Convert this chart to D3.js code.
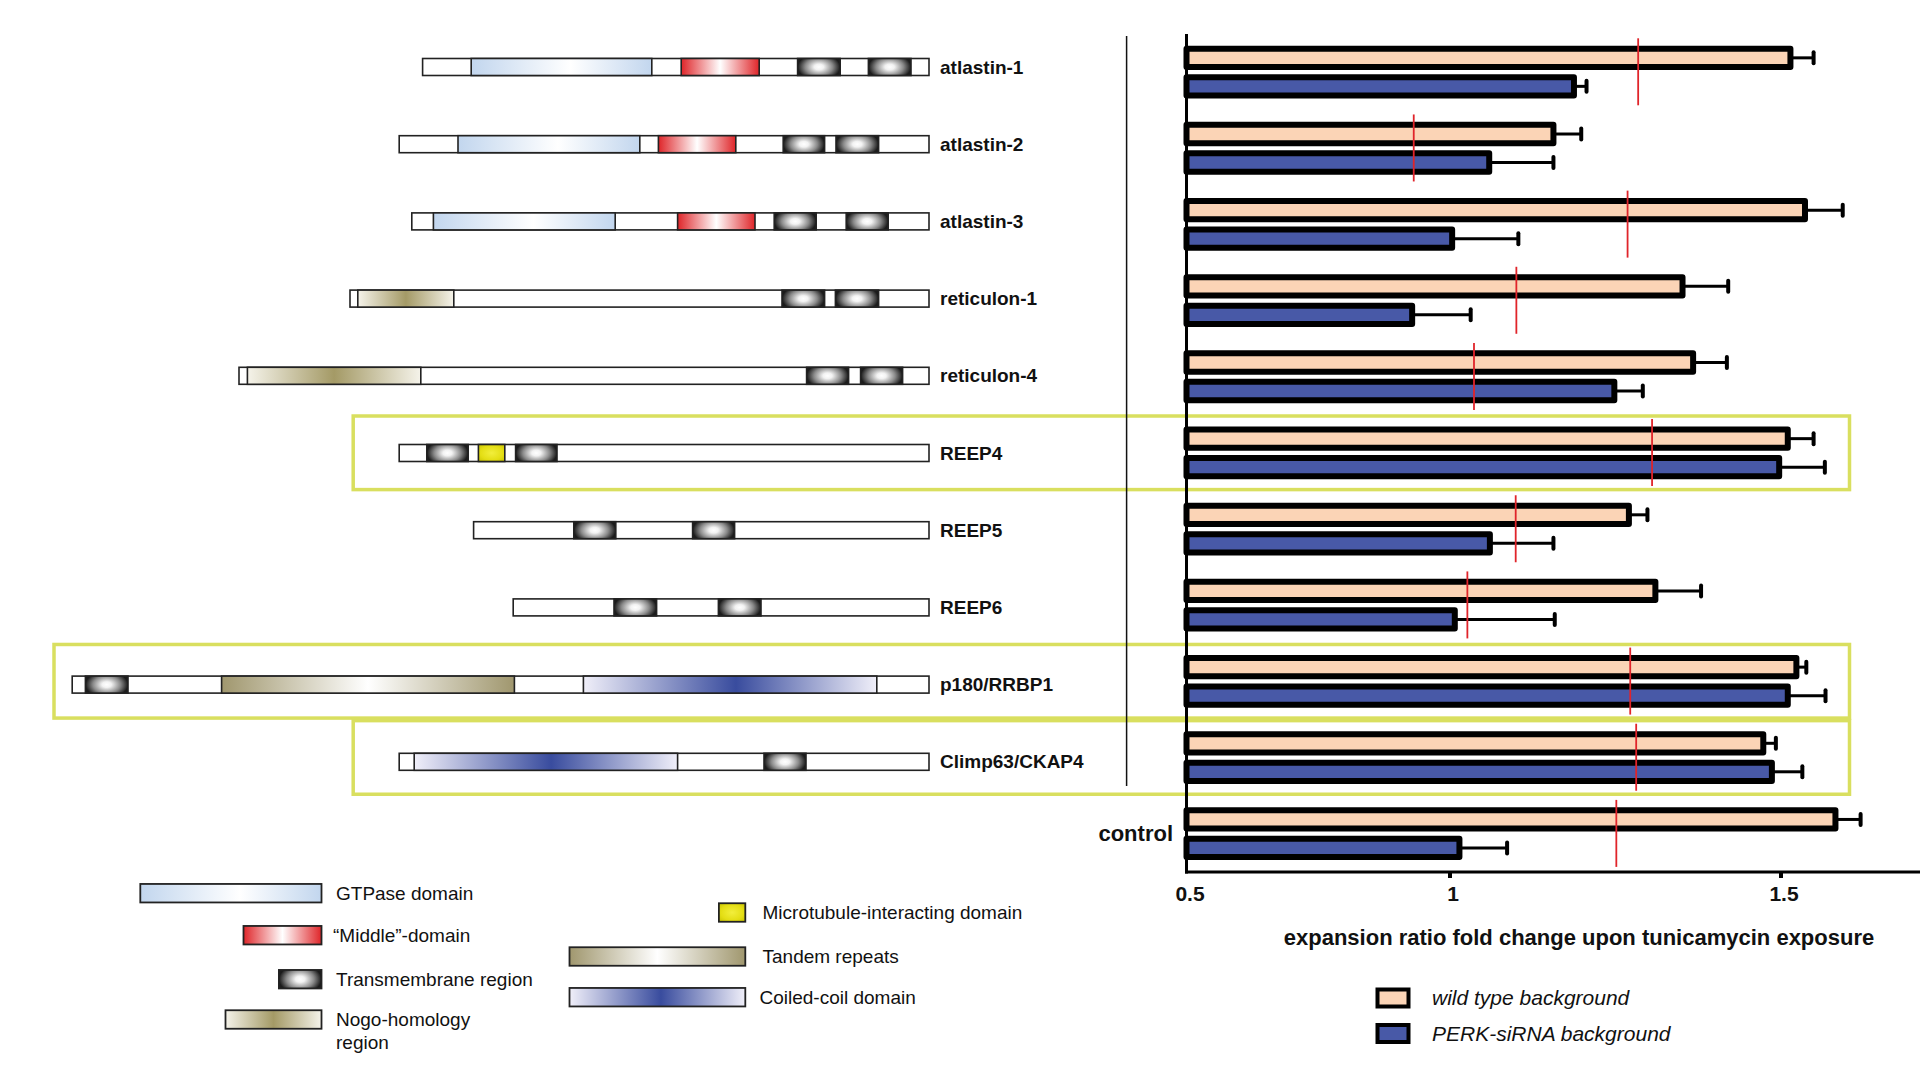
<!DOCTYPE html>
<html><head><meta charset="utf-8">
<script src="https://cdn.jsdelivr.net/npm/d3@7"></script>
<style>body{margin:0;background:#fff}svg{display:block}</style>
</head><body><svg id="c" width="1920" height="1068"></svg>
<script>
// ---------- DATA ----------
const proteins = ["atlastin-1","atlastin-2","atlastin-3","reticulon-1","reticulon-4","REEP4","REEP5","REEP6","p180/RRBP1","Climp63/CKAP4"];
const proteinLength = [844, 883, 862, 965, 1150, 883, 759, 693, 1428, 883];
// domains: [protein, type, start, end] (schematic residue units)
const domains = [
  ["atlastin-1","gtp",81,382],["atlastin-1","mid",431,561],["atlastin-1","tm",625,696],["atlastin-1","tm",743,814],
  ["atlastin-2","gtp",98,401],["atlastin-2","mid",432,561],["atlastin-2","tm",640,709],["atlastin-2","tm",728,799],
  ["atlastin-3","gtp",36,339],["atlastin-3","mid",443,572],["atlastin-3","tm",604,674],["atlastin-3","tm",724,794],
  ["reticulon-1","nogo",13,173],["reticulon-1","tm",720,791],["reticulon-1","tm",809,881],
  ["reticulon-4","nogo",14,303],["reticulon-4","tm",946,1016],["reticulon-4","tm",1036,1106],
  ["REEP4","tm",46,115],["REEP4","mt",132,176],["REEP4","tm",194,263],
  ["REEP5","tm",167,237],["REEP5","tm",365,435],
  ["REEP6","tm",168,239],["REEP6","tm",342,413],
  ["p180/RRBP1","tm",22,93],["p180/RRBP1","tandem",249,737],["p180/RRBP1","coil",852,1341],
  ["Climp63/CKAP4","coil",25,464],["Climp63/CKAP4","tm",608,678]
];
const highlighted = ["REEP4","p180/RRBP1","Climp63/CKAP4"];

const categories = ["atlastin-1","atlastin-2","atlastin-3","reticulon-1","reticulon-4","REEP4","REEP5","REEP6","p180/RRBP1","Climp63/CKAP4","control"];
const wildType    = [1.515,1.157,1.537,1.352,1.368,1.511,1.271,1.311,1.524,1.474,1.583];
const wildTypeErr = [0.035,0.042,0.057,0.069,0.051,0.039,0.028,0.069,0.015,0.019,0.038];
const perk        = [1.188,1.060,1.004,0.929,1.249,1.498,1.061,1.008,1.511,1.487,1.015];
const perkErr     = [0.019,0.097,0.100,0.103,0.043,0.069,0.096,0.151,0.057,0.046,0.072];
const redMarks    = [1.285,0.932,1.269,1.101,1.037,1.306,1.100,1.027,1.273,1.282,1.252];
const xTicks = [0.5, 1, 1.5];
const xTitle = "expansion ratio fold change upon tunicamycin exposure";
const seriesNames = ["wild type background","PERK-siRNA background"];
const domainLegendLeft = [["gtp","GTPase domain",302],["mid","\u201cMiddle\u201d-domain",130],["tm","Transmembrane region",71],["nogo","Nogo-homology|region",160]];
const domainLegendRight = [["mt","Microtubule-interacting domain",44],["tandem","Tandem repeats",293],["coil","Coiled-coil domain",293]];

// ---------- STYLE ----------
const peach = "#fbd4b6", blue = "#4859a7", boxCol = "#d9df5f";
const font = "'Liberation Sans', Arial, Helvetica, sans-serif";
const svg = d3.select("#c").style("font-family", font);
svg.append("rect").attr("width",1920).attr("height",1068).attr("fill","#fff");

const defs = svg.append("defs");
const grads = {
  gtp:[[0,"#c2d6ee"],[0.55,"#ffffff"],[1,"#c2d6ee"]],
  mid:[[0,"#df2529"],[0.5,"#ffffff"],[1,"#df2529"]],
  nogo:[[0,"#f5f3ea"],[0.5,"#a49a66"],[1,"#f5f3ea"]],
  tandem:[[0,"#a0976e"],[0.5,"#ffffff"],[1,"#a0976e"]],
  coil:[[0,"#f0eff9"],[0.52,"#394c9e"],[1,"#f0eff9"]]
};
Object.entries(grads).forEach(([id,stops])=>{
  const g = defs.append("linearGradient").attr("id","g-"+id).attr("x1",0).attr("x2",1).attr("y1",0).attr("y2",0);
  stops.forEach(s=>g.append("stop").attr("offset",s[0]).attr("stop-color",s[1]));
});
const rgrads = {
  tm:{r:0.62, t:"translate(0.5,0.5) scale(0.8,1.25) translate(-0.5,-0.5)", stops:[[0,"#ffffff"],[0.22,"#f2f2f2"],[0.65,"#8a8a8a"],[1,"#1c1c1c"]]},
  mt:{r:0.7, t:null, stops:[[0,"#f2ee3c"],[0.6,"#e4de14"],[1,"#c8c200"]]}
};
Object.entries(rgrads).forEach(([id,o])=>{
  const g = defs.append("radialGradient").attr("id","g-"+id).attr("cx",0.5).attr("cy",0.5).attr("r",o.r);
  if (o.t) g.attr("gradientTransform", o.t);
  o.stops.forEach(s=>g.append("stop").attr("offset",s[0]).attr("stop-color",s[1]));
});

// ---------- PROTEIN DIAGRAMS ----------
const diagRight = 929;
const unit = d3.scaleLinear().domain([0, 1428]).range([0, 856.8]);
const yDiag = d3.scalePoint().domain(proteins).range([67, 761.8]);
const diagH = 17;
const lenOf = p => proteinLength[proteins.indexOf(p)];
const px = (p, pos) => diagRight - unit(lenOf(p) - pos);

// ---------- BARS ----------
const x = d3.scaleLinear().domain([0.5, 1, 1.5]).range([1186.5, 1449.5, 1780.5]);
const yBar = d3.scalePoint().domain(categories).range([72, 833.6]);

// highlight boxes (behind)
const gBox = svg.append("g");
highlighted.forEach(p=>{
  const c = yBar(p);
  const left = Math.max(54, px(p,0) - 46);
  gBox.append("rect").attr("x",left).attr("y",c-36.8).attr("width",1849.5-left).attr("height",73.6)
    .attr("fill","none").attr("stroke",boxCol).attr("stroke-width",3.5);
});

// separator
svg.append("line").attr("x1",1126.6).attr("x2",1126.6).attr("y1",36).attr("y2",786)
  .attr("stroke","#111").attr("stroke-width",1.5);

const gDiag = svg.append("g");
proteins.forEach((p,i)=>{
  const c = yDiag(p);
  gDiag.append("rect").attr("x",px(p,0)).attr("y",c-diagH/2).attr("width",unit(proteinLength[i])).attr("height",diagH)
    .attr("fill","#fff").attr("stroke","#222").attr("stroke-width",1.6);
  domains.filter(d=>d[0]===p).forEach(d=>{
    gDiag.append("rect").attr("x",px(p,d[2])).attr("y",c-diagH/2).attr("width",unit(d[3]-d[2])).attr("height",diagH)
      .attr("fill","url(#g-"+d[1]+")").attr("stroke","#222").attr("stroke-width",1.6);
  });
  gDiag.append("text").attr("x",940).attr("y",c).attr("dy","0.35em").attr("font-size",19).attr("font-weight","bold")
    .attr("fill","#111").text(p);
});

// bars
const gBars = svg.append("g");
const barH = 18.3, sw = 6;
const series = [
  {vals:wildType, errs:wildTypeErr, fill:peach, off:-14.15},
  {vals:perk, errs:perkErr, fill:blue, off:14.35}
];
series.forEach(s=>{
  categories.forEach((cat,i)=>{
    const cy = yBar(cat) + s.off;
    const v = s.vals[i], e = s.errs[i];
    gBars.append("line").attr("x1",x(v)).attr("x2",x(v+e)).attr("y1",cy).attr("y2",cy)
      .attr("stroke","#000").attr("stroke-width",3);
    gBars.append("line").attr("x1",x(v+e)).attr("x2",x(v+e)).attr("y1",cy-5.5).attr("y2",cy+5.5)
      .attr("stroke","#000").attr("stroke-width",4).attr("stroke-linecap","round");
    gBars.append("rect").attr("x",x(0.5)).attr("y",cy-barH/2).attr("width",x(v)-x(0.5)).attr("height",barH)
      .attr("fill",s.fill).attr("stroke","#000").attr("stroke-width",sw).attr("stroke-linejoin","round");
  });
});
// red marks
categories.forEach((cat,i)=>{
  const c = yBar(cat);
  gBars.append("line").attr("x1",x(redMarks[i])).attr("x2",x(redMarks[i])).attr("y1",c-33.7).attr("y2",c+33.3)
    .attr("stroke","#e0242a").attr("stroke-width",1.8);
});

// axes
svg.append("line").attr("x1",1186.5).attr("x2",1186.5).attr("y1",34).attr("y2",873.5).attr("stroke","#000").attr("stroke-width",3);
svg.append("line").attr("x1",1185).attr("x2",1920).attr("y1",872).attr("y2",872).attr("stroke","#000").attr("stroke-width",3);
const ax = d3.axisBottom(x).tickValues(xTicks).tickFormat(d=>String(d)).tickSize(6).tickPadding(10);
const gAx = svg.append("g").attr("transform","translate(0,872)").call(ax);
gAx.select(".domain").remove();
gAx.selectAll(".tick line").attr("stroke","#000").attr("stroke-width",4).attr("opacity",(d)=>d===0.5?0:1);
gAx.selectAll(".tick text").attr("font-size",21).attr("font-weight","bold").attr("font-family",font).attr("fill","#111")
  .attr("y",null).attr("dy",null).attr("transform","translate(3,28.5)");

svg.append("text").attr("x",1579).attr("y",945).attr("text-anchor","middle").attr("font-size",22).attr("font-weight","bold")
  .attr("fill","#111").text(xTitle);

svg.append("text").attr("x",1173).attr("y",yBar("control")).attr("dy","0.35em").attr("text-anchor","end")
  .attr("font-size",22).attr("font-weight","bold").attr("fill","#111").text("control");

// series legend
[peach, blue].forEach((col,i)=>{
  const cy = 998 + i*35.5;
  svg.append("rect").attr("x",1377.5).attr("y",cy-8.5).attr("width",31).attr("height",17)
    .attr("fill",col).attr("stroke","#000").attr("stroke-width",4);
  svg.append("text").attr("x",1432).attr("y",cy).attr("dy","0.35em").attr("font-size",21).attr("font-style","italic")
    .attr("fill","#111").text(seriesNames[i]);
});

// domain legend
const legH = 18.5;
function legendItem(d, rightX, cy, textX){
  const w = unit(d[2]);
  svg.append("rect").attr("x",rightX-w).attr("y",cy-legH/2).attr("width",w).attr("height",legH)
    .attr("fill","url(#g-"+d[0]+")").attr("stroke","#222").attr("stroke-width",1.8);
  const lines = d[1].split("|");
  lines.forEach((t,j)=>{
    svg.append("text").attr("x",textX).attr("y",cy + j*23).attr("dy","0.35em").attr("font-size",19)
      .attr("fill","#111").text(t);
  });
}
const leftCy = [893.2, 935.2, 979.2, 1019.5];
domainLegendLeft.forEach((d,i)=>legendItem(d, 321.5, leftCy[i], i===1?333:336));
const rightCy = [912.5, 956.5, 997.2];
domainLegendRight.forEach((d,i)=>legendItem(d, 745.3, rightCy[i], i===2?759.5:762.5));
</script></body></html>
